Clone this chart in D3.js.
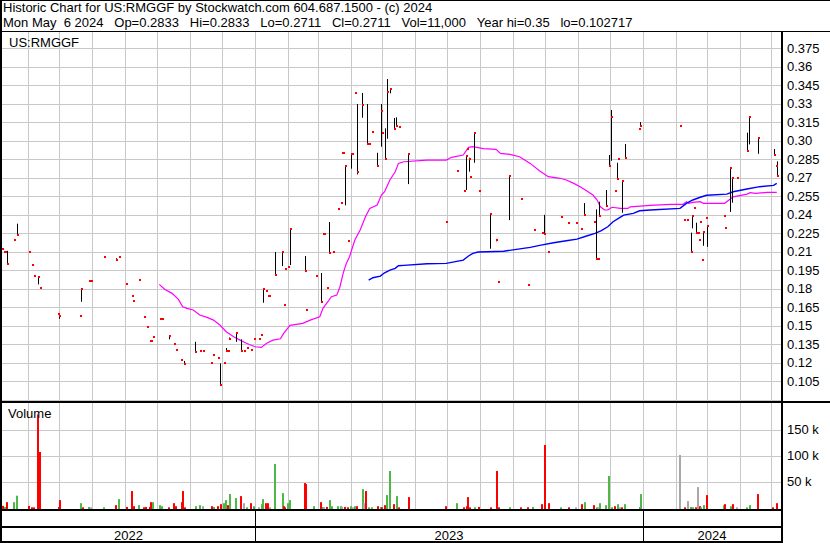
<!DOCTYPE html>
<html><head><meta charset="utf-8">
<script src="https://cdn.jsdelivr.net/npm/d3@7"></script>
<style>
body{margin:0;background:#fff}
svg{display:block}
text{font-family:"Liberation Sans",Arial,sans-serif;font-size:13px;fill:#000}
</style>
</head><body>
<svg id="c" width="830" height="543"></svg>
<script>
// ---------------- DATA ----------------
const titleLine1 = "Historic Chart for US:RMGGF by Stockwatch.com 604.687.1500 - (c) 2024";
const titleLine2 = "Mon May  6 2024   Op=0.2833   Hi=0.2833   Lo=0.2711   Cl=0.2711   Vol=11,000   Year hi=0.35   lo=0.102717";
const symbolLabel = "US:RMGGF";
const volumeLabel = "Volume";
const chartStart = "2022-05-08";   // left edge of the time axis
const chartEnd = "2024-05-10";     // right edge of the time axis

const priceTickLabels = ["0.375","0.36","0.345","0.33","0.315","0.30","0.285","0.27","0.255","0.24","0.225","0.21","0.195","0.18","0.165","0.15","0.135","0.12","0.105"];
const volTickValues = [50000, 100000, 150000];
const volTickLabels = ["50 k", "100 k", "150 k"];
const yearLabels = ["2022", "2023", "2024"];

// daily bars: day offset from chartStart, high, low, close
const barDay = [0,2,3,5,11,14,25,28,30,34,36,53,54,73,74,82,84,96,107,110,117,122,123,129,134,136,139,140,142,149,151,157,162,164,168,171,182,186,189,197,199,203,205,209,211,213,214,220,225,228,231,234,237,242,244,246,248,250,251,257,263,265,266,269,271,285,286,295,300,302,303,306,308,311,316,319,320,321,323,326,328,329,332,334,339,343,345,348,353,357,358,360,362,365,369,371,374,382,418,428,435,437,438,439,440,444,449,459,465,467,477,488,495,501,508,510,514,526,533,540,545,548,557,559,561,562,568,571,573,577,579,580,583,586,599,600,638,642,645,648,649,651,653,655,656,657,659,660,662,663,679,680,685,687,692,701,703,711,726,728,729];
const barHigh = [.212,.210,.210,.2108,.2198,.2328,.210,.1995,.1906,.1903,.1808,.1597,.160,.1581,.1803,.1865,.1865,.206,.2048,.206,.1841,.1743,.1703,.1873,.1573,.1492,.1378,.1378,.141,.1557,.1557,.1425,.135,.1306,.1225,.1215,.137,.1298,.1298,.120,.1265,.1241,.1195,.120,.132,.1298,.1405,.1443,.139,.1298,.132,.1306,.1395,.1395,.1427,.1796,.1784,.1744,.1744,.2098,.2096,.167,.1963,.1979,.2282,.2066,.163,.1906,.1928,.2246,.2246,.1808,.2341,.210,.245,.2498,.2903,.2903,.2801,.219,.2893,.2895,.339,.3298,.3388,.3298,.2976,.3074,.2903,.3298,.3063,.3101,.3501,.3426,.3185,.319,.3112,.2898,.2341,.2755,.2595,.2879,.2936,.2863,.2709,.3066,.2595,.2406,.2205,.1857,.2717,.253,.1833,.2279,.2254,.24,.21,.2384,.2336,.2336,.2287,.2495,.2344,.2444,.2044,.2506,.2601,.2885,.325,.2593,.2822,.2855,.2682,.2974,.3098,.3152,.312,.236,.236,.2255,.2398,.2455,.2336,.2255,.2195,.2344,.2033,.2266,.2377,.2315,.2393,.2295,.2787,.2706,.2701,.3066,.3196,.3025,.2933,.2798,.2833];
const barLow = [.212,.210,.210,.2003,.2198,.2238,.210,.1995,.1906,.1836,.1808,.1597,.1557,.1581,.1695,.1865,.1865,.206,.2032,.206,.1841,.1743,.1703,.1873,.1573,.1492,.1378,.1378,.141,.1557,.1557,.139,.135,.1306,.1225,.1192,.1289,.1298,.1298,.120,.1265,.1241,.102,.120,.1298,.1298,.1393,.137,.1298,.1298,.132,.1306,.1395,.1395,.1427,.1687,.1784,.1744,.1744,.1911,.1984,.167,.1963,.1979,.1993,.1946,.163,.1906,.1693,.2246,.2246,.1808,.2092,.210,.245,.2498,.2903,.2903,.2477,.219,.2774,.2895,.339,.2728,.3187,.2974,.2976,.3074,.2795,.2952,.3063,.2852,.3017,.3385,.3093,.312,.3112,.2649,.2341,.2755,.2595,.2601,.2936,.275,.2709,.2822,.2595,.2125,.2185,.1857,.2357,.253,.1833,.2279,.2254,.2244,.21,.2384,.2336,.2336,.2287,.24,.2344,.2041,.2044,.239,.2474,.2795,.2838,.2593,.269,.2855,.2417,.2861,.3098,.312,.312,.236,.236,.2098,.229,.2455,.2255,.2255,.2195,.2344,.2033,.2149,.2377,.214,.2393,.2295,.2424,.2498,.2701,.2917,.2971,.2895,.2884,.2798,.2711];
const barClose = [.212,.210,.210,.2003,.2198,.2238,.210,.1995,.1906,.1898,.1808,.1597,.158,.1581,.180,.1865,.1865,.206,.2035,.206,.1841,.1743,.1703,.1873,.1573,.1492,.1378,.1378,.141,.1557,.1557,.1415,.135,.1306,.1225,.1192,.1289,.1298,.1298,.120,.1265,.1241,.102,.120,.1298,.1298,.1393,.1443,.1298,.1298,.132,.1306,.1395,.1395,.1427,.1796,.1784,.1744,.1744,.1911,.2096,.167,.1963,.1979,.2282,.1946,.163,.1906,.1693,.2246,.2246,.1808,.2092,.210,.245,.2498,.2903,.2903,.2795,.219,.2893,.2895,.339,.2747,.3293,.2976,.2976,.3074,.2797,.3241,.3063,.2855,.3398,.342,.3098,.312,.3112,.2893,.2341,.2755,.2595,.2876,.2936,.2855,.2709,.3063,.2595,.2403,.2195,.1857,.2717,.253,.1833,.2279,.2254,.2246,.21,.2384,.2336,.2336,.2287,.24,.2344,.2044,.2044,.239,.2474,.2795,.3193,.2593,.2692,.2855,.2676,.2863,.3098,.312,.312,.236,.236,.2098,.2393,.2455,.2255,.2255,.2195,.2344,.2033,.2262,.2377,.2312,.2393,.2295,.278,.2701,.2701,.2917,.3196,.3022,.2887,.2798,.2711];

// moving average (magenta)
const maShortDay = [148,153,160,166,170,174,180,186,193,199,205,211,218,224,230,238,244,249,255,262,265,271,283,290,299,302,310,315,318,321,324,327,332,337,342,346,353,357,360,365,370,373,378,400,418,423,434,439,443,453,465,469,478,487,497,506,514,525,531,538,544,550,556,560,563,567,570,574,582,589,591,610,629,641,644,646,650,657,660,680,688,701,704,709,720,729];
const maShortVal = [.1836,.1796,.1763,.1714,.1654,.1641,.1628,.1587,.1568,.1546,.1506,.1452,.1411,.1384,.1358,.1330,.1325,.1358,.1384,.1395,.1439,.1504,.152,.1546,.1573,.1641,.1736,.1749,.1817,.1925,.2006,.206,.2195,.2277,.2384,.2452,.2479,.256,.2587,.2682,.2749,.2817,.283,.2844,.2844,.2866,.2885,.2947,.2952,.2936,.2931,.2898,.289,.2871,.2817,.2755,.2709,.2696,.2682,.2655,.2628,.2595,.256,.252,.2465,.2439,.2439,.2461,.2452,.2452,.2465,.2477,.2485,.2485,.2506,.2493,.2501,.2506,.2493,.2493,.2546,.2568,.2579,.2574,.2582,.2582];
// moving average (blue)
const maLongDay = [345,349,356,360,365,370,373,378,400,418,423,434,439,443,448,472,484,497,506,519,531,541,550,558,564,570,575,580,585,594,600,610,638,644,650,657,663,682,688,701,713,726,729];
const maLongVal = [.1871,.1890,.1903,.193,.1952,.1966,.1987,.199,.2003,.2006,.2014,.2033,.2066,.2087,.2098,.2104,.212,.2136,.2152,.2173,.2190,.2203,.2228,.225,.2271,.2303,.2344,.2371,.2398,.2412,.2433,.2439,.2452,.2493,.252,.2542,.2558,.2568,.2587,.2609,.2628,.2639,.2655];

// volume: day offset, thousands of shares, direction (r=down, g=up, n=unchanged)
const volDay = [
  0,2,4,10,13,24,27,29,33,35,
  53,54,73,75,81,83,95,106,109,117,
  121,123,128,133,135,138,139,141,148,150,
  156,161,163,168,169,171,182,185,188,197,
  199,202,205,208,210,212,214,219,224,227,
  230,233,236,241,244,245,247,249,251,256,
  263,264,265,268,270,284,285,293,299,301,
  302,305,308,310,315,318,319,322,325,327,
  329,331,333,339,340,342,344,347,353,356,
  357,359,361,364,368,371,373,382,417,427,
  434,437,438,439,444,448,459,465,467,477,
  487,494,499,507,510,514,525,533,539,545,
  548,556,559,560,562,567,570,573,576,579,
  581,582,585,599,600,637,642,645,647,649,
  652,654,656,657,660,662,678,679,685,687,
  691,700,703,710,725,728];
const volK = [
  3.1,1.2,10.3,10.3,22.7,3.1,0.3,0.3,179,106.7,
  1,14.2,8.3,0.3,1,0.3,0.3,4.5,16.1,1,
  31.6,2.5,4.5,0.3,1,1,10.3,10.3,4.5,2.5,
  0.3,8.3,2.5,10.3,31.6,0.3,2.5,4.5,2.5,2.5,
  1,2.5,6.4,8.3,14.2,4.5,25.8,18.1,21.9,8.3,
  0.3,8.3,2.5,0.3,6.4,16.1,8.3,8.3,0.3,83.6,
  27.7,2.5,0.3,8.3,14.2,47,45,2.5,10.3,1,
  0.3,1,14.2,2.5,2.5,2.5,1,1,0.3,2.5,
  0.3,2.5,2.5,35.4,8.3,31.6,0.3,0.3,2.5,1,
  0.3,4.5,23.9,70.2,6.4,21.9,0.3,20,2.5,8.3,
  0.3,2.5,20,0.3,0.3,1,0.3,70.2,0.3,0.3,
  0.3,0.3,1,6.4,120.2,8.3,0.3,0.3,0.3,6.4,
  10.3,4.5,0.3,0.3,8.3,4.5,60.6,0.3,2.5,6.4,
  0.3,0.3,6.4,1,25.8,100.9,0.3,12.2,1,0.3,
  0.3,39.3,2.5,0.3,4.5,23.9,4.5,6.4,2.5,6.4,
  0.3,0.3,4.5,25.8,0.3,8.3];
const volDir = [
  "r","g","r","g","g","r","r","r","r","r",
  "r","r","g","r","g","n","g","r","g","r",
  "r","r","g","r","r","r","r","g","g","g",
  "r","r","r","r","r","r","g","g","n","r",
  "g","r","r","g","g","r","g","g","r","n",
  "g","r","g","n","g","g","r","r","n","g",
  "g","r","r","g","g","r","r","g","r","g",
  "n","r","g","g","g","g","n","r","r","g",
  "n","g","r","g","n","r","g","g","r","g",
  "r","r","g","g","r","g","r","r","r","g",
  "r","r","r","r","g","r","r","r","r","g",
  "r","r","g","r","r","r","g","r","n","r",
  "g","r","g","n","g","g","g","g","r","g",
  "n","r","g","g","g","n","r","n","g","g",
  "r","n","r","g","g","r","g","r","g","r",
  "n","g","g","r","r","r"];

// ---------------- DRAW ----------------
const colors = {r: "#ff0000", g: "#4db848", n: "#a8a8a8"};
const svg = d3.select("#c");
const W = 830, H = 543;
const X0 = 2, X1 = 781;
const parse = d3.timeParse("%Y-%m-%d");
const t0 = parse(chartStart), t1 = parse(chartEnd);
const dayToDate = d => d3.timeDay.offset(t0, d);
const x = d3.scaleTime().domain([t0, t1]).range([X0, X1]);
const priceTop = 32, priceBot = 401, volTop = 403, volBot = 509;
const priceVals = priceTickLabels.map(Number);
const y = d3.scaleLinear().domain([d3.min(priceVals), d3.max(priceVals)]).range([381.3, 48.3]);
const yv = d3.scaleLinear().domain([0, volTickValues[0]]).range([507.5, 481.5]);
const keepSpaces = s => s.replace(/ /g, "\u00A0");

svg.append("rect").attr("width", W).attr("height", H).attr("fill", "#fff");

const grid = svg.append("g").attr("stroke", "#c8c8c8").attr("stroke-width", 1).attr("shape-rendering", "crispEdges");
const months = d3.timeMonth.range(d3.timeMonth.ceil(t0), t1);
months.forEach(m => {
  const gx = Math.round(x(m)) + 0.5;
  grid.append("line").attr("x1", gx).attr("x2", gx).attr("y1", priceTop).attr("y2", priceBot);
  grid.append("line").attr("x1", gx).attr("x2", gx).attr("y1", volTop).attr("y2", volBot);
});
const step = priceVals[0] - priceVals[1];
d3.range(d3.min(priceVals) - step, d3.max(priceVals) + step / 2, step).forEach(v => {
  const gy = Math.round(y(v)) + 0.5;
  if (gy > priceTop && gy < priceBot) grid.append("line").attr("x1", X0).attr("x2", X1).attr("y1", gy).attr("y2", gy);
});
volTickValues.forEach(v => {
  const gy = Math.round(yv(v)) + 0.5;
  grid.append("line").attr("x1", X0).attr("x2", X1).attr("y1", gy).attr("y2", gy);
});

// moving averages
const line = d3.line().x(d => x(dayToDate(d[0]))).y(d => y(d[1]));
svg.append("path").datum(maShortDay.map((d, i) => [d, maShortVal[i]]))
  .attr("d", line).attr("fill", "none").attr("stroke", "#ff00ff").attr("stroke-width", 1.2);
svg.append("path").datum(maLongDay.map((d, i) => [d, maLongVal[i]]))
  .attr("d", line).attr("fill", "none").attr("stroke", "#0000ff").attr("stroke-width", 1.4);

// high-low lines
const bars = barDay.map((d, i) => ({d, hi: barHigh[i], lo: barLow[i], cl: barClose[i]}));
svg.append("g").selectAll("rect").data(bars.filter(b => b.hi > b.lo)).join("rect")
  .attr("x", b => Math.round(x(dayToDate(b.d))))
  .attr("width", 1)
  .attr("y", b => y(b.hi))
  .attr("height", b => Math.max(1, y(b.lo) - y(b.hi)))
  .attr("fill", "#000");
// close markers
svg.append("g").selectAll("rect").data(bars).join("rect")
  .attr("x", b => Math.round(x(dayToDate(b.d))))
  .attr("y", b => Math.round(y(b.cl)) - 1)
  .attr("width", 2).attr("height", 2).attr("fill", "#ff0000");

// volume bars
const vols = volDay.map((d, i) => ({d, v: volK[i] * 1000, c: volDir[i]}));
svg.append("g").selectAll("rect").data(vols).join("rect")
  .attr("x", b => Math.round(x(dayToDate(b.d))))
  .attr("width", 2)
  .attr("y", b => Math.min(yv(b.v), volBot - 1))
  .attr("height", b => volBot - Math.min(yv(b.v), volBot - 1))
  .attr("fill", b => colors[b.c]);

// frame
const frame = svg.append("g").attr("fill", "#000").attr("shape-rendering", "crispEdges");
frame.append("rect").attr("x", 0).attr("y", 0).attr("width", W).attr("height", 1);
frame.append("rect").attr("x", 0).attr("y", 0).attr("width", 2).attr("height", H);
frame.append("rect").attr("x", 0).attr("y", 31).attr("width", W).attr("height", 1);
frame.append("rect").attr("x", X1).attr("y", 31).attr("width", 2).attr("height", H - 31);
frame.append("rect").attr("x", 0).attr("y", priceBot).attr("width", W).attr("height", 2);
frame.append("rect").attr("x", 0).attr("y", volBot).attr("width", X1 + 2).attr("height", 2);
frame.append("rect").attr("x", 0).attr("y", 526).attr("width", X1 + 2).attr("height", 2);
frame.append("rect").attr("x", 0).attr("y", 541).attr("width", X1 + 2).attr("height", 2);

// year boundaries and labels
const yearStarts = yearLabels.map(s => parse(s + "-01-01"));
const bounds = [X0, ...yearStarts.slice(1).map(d => Math.round(x(d))), X1];
bounds.slice(1, -1).forEach(bx => frame.append("rect").attr("x", bx).attr("y", volBot).attr("width", 1).attr("height", H - volBot));
yearLabels.forEach((lab, i) => {
  svg.append("text").attr("x", (bounds[i] + bounds[i + 1]) / 2).attr("y", 539.5)
    .attr("text-anchor", "middle").text(lab);
});

// axis labels
priceTickLabels.forEach((lab, i) => {
  svg.append("text").attr("x", 787).attr("y", y(priceVals[i]) + 4.6).text(lab);
});
volTickLabels.forEach((lab, i) => {
  svg.append("text").attr("x", 787).attr("y", yv(volTickValues[i]) + 4.6).text(keepSpaces(lab));
});

// titles
svg.append("text").attr("x", 3).attr("y", 11.5).text(titleLine1);
svg.append("text").attr("x", 3).attr("y", 26.5).text(keepSpaces(titleLine2));
svg.append("text").attr("x", 9).attr("y", 46.5).text(symbolLabel);
svg.append("text").attr("x", 8).attr("y", 418).text(volumeLabel);
</script>
</body></html>
